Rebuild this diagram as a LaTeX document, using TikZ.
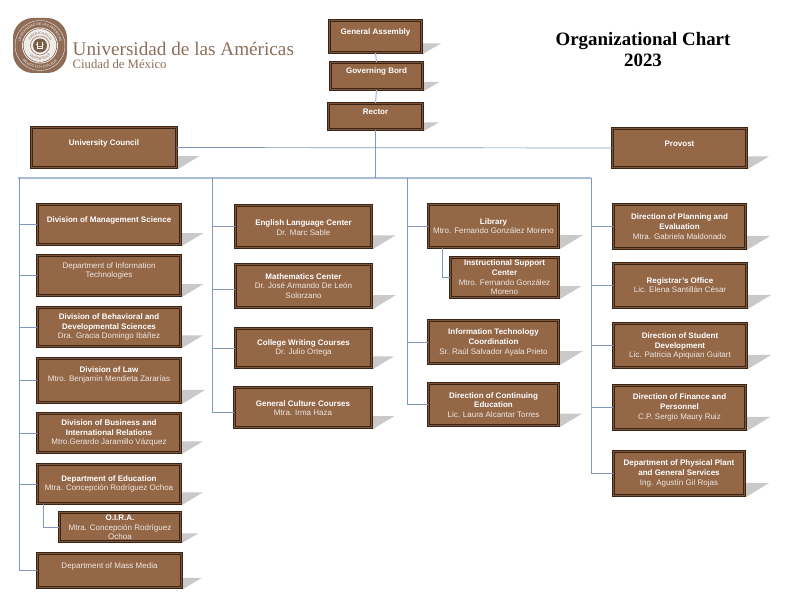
\documentclass[tikz,border=0pt]{standalone}
\usepackage{fontspec}
\setmainfont{Liberation Sans}
\newfontfamily\serifhead{Liberation Serif}
\usepackage{tikz}
\usetikzlibrary{decorations.text}

\definecolor{unitfill}{HTML}{946747}
\definecolor{unitgap}{HTML}{7D5539}
\definecolor{unitline}{HTML}{3A2416}
\definecolor{unitshade}{HTML}{C9C9C9}
\definecolor{linkblue}{HTML}{7E98BF}
\definecolor{buspale}{HTML}{A9BBD6}
\definecolor{seal}{HTML}{8F6C55}
\definecolor{sealtext}{HTML}{8D6E5A}

\tikzset{
unit/.style={draw=unitline,line width=0.8pt,double=unitgap,double distance=1.2pt,fill=unitfill,inner sep=0pt},
unittext/.style={align=center,inner sep=0pt,text=white,font=\fontsize{8}{9.7}\selectfont},
link/.style={draw=linkblue,line width=0.7pt},
bus/.style={draw=buspale,line width=1.1pt}
}
\newcommand{\hd}[1]{\textbf{#1}}
\newcommand{\nm}[1]{\textcolor{white!85!unitfill}{#1}}

\begin{document}
\begin{tikzpicture}[x=1pt,y=-1pt]
\useasboundingbox (0,0) rectangle (792,612);

% seal
\begin{scope}[shift={(40,45.5)},x=1pt,y=1pt]
\fill[seal,rounded corners=20pt] (-27,-27.5) rectangle (27,27.5);
\draw[white,line width=0.3pt] (0,0) circle (25);
\fill[white!88!seal] (0,0) circle (18);
\draw[seal,line width=0.6pt] (0,0) circle (16.8);
\draw[seal,line width=0.5pt] (0,0) circle (9.5);
\fill[seal!85!black] (0,0) circle (7);
\draw[white,line width=0.5pt] (-4,1.5) arc[start angle=200,end angle=340,radius=4.2];
\draw[white,line width=0.4pt] (-2.5,3) -- (-2.5,-2.5) -- (2.5,-2.5) -- (2.5,3);
\path[decorate,decoration={text along path,text color=white,text align=center,
  text={|\fontsize{3.4}{4}\selectfont|UNIVERSIDAD DE LAS AMERICAS}}] (175:20) arc[start angle=175,end angle=5,radius=20];
\path[decorate,decoration={text along path,text color=white,text align=center,
  text={|\fontsize{3.4}{4}\selectfont|MEXICO CITY COLLEGE}}] (205:23) arc[start angle=205,end angle=335,radius=23];
\path[decorate,decoration={text along path,text color=seal,text align=center,
  text={|\fontsize{3.6}{5}\selectfont|AMERICARUM}}] (165:11) arc[start angle=165,end angle=15,radius=11];
\path[decorate,decoration={text along path,text color=seal,text align=center,
  text={|\fontsize{3.6}{5}\selectfont|UNIVERSITAS}}] (200:14.5) arc[start angle=200,end angle=340,radius=14.5];
\end{scope}

\node[anchor=base west,inner sep=0pt,text=sealtext,font=\serifhead\fontsize{19.2}{21}\selectfont] (udla) at (72.5,55.5) {Universidad de las Américas};
\node[anchor=base west,inner sep=0pt,text=sealtext,font=\serifhead\fontsize{12.7}{14}\selectfont] (cdmx) at (72.5,69) {Ciudad de México};
\node[align=center,inner sep=0pt,font=\serifhead\bfseries\fontsize{18.9}{21}\selectfont] (title) at (643,49.5) {Organizational Chart\\2023};

% boxes: name / left / top / right / bottom / text centre / text
\foreach \n/\xa/\ya/\xb/\yb/\ty/\txt in {
assembly/328/19/423/54/32.5/{\hd{General Assembly}},
board/329/61/424/91/71.5/{\hd{Governing Bord}},
rector/327/102/424/131/111.5/{\hd{Rector}},
council/30/126/178/169/143.5/{\hd{University Council}},
provost/611/127/748/169/143.5/{\hd{Provost}},
mgmt/36/203/182/246/220/{\hd{Division of Management Science}},
infotech/36/254/182/297/271/{\nm{Department of Information}\\\nm{Technologies}},
behav/36/306/182/348/327/{\hd{Division of Behavioral and}\\\hd{Developmental Sciences}\\\nm{Dra. Gracia Domingo Ibáñez}},
law/36/357/182/404/375/{\hd{Division of Law}\\\nm{Mtro. Benjamín Mendieta Zararías}},
business/36/412/182/454/433/{\hd{Division of Business and}\\\hd{International Relations}\\\nm{Mtro.Gerardo Jaramillo Vázquez}},
education/36/463/182/505/484/{\hd{Department of Education}\\\nm{Mtra. Concepción Rodríguez Ochoa}},
oira/58/511/182/543/527.5/{\hd{O.I.R.A.}\\\nm{Mtra. Concepción Rodríguez}\\\nm{Ochoa}},
media/36/552/183/589/566/{\nm{Department of Mass Media}},
english/234/204/373/249/227.5/{\hd{English Language Center}\\\nm{Dr. Marc Sable}},
maths/234/263/373/309/286/{\hd{Mathematics Center}\\\nm{Dr. José Armando De León}\\\nm{Solorzano}},
writing/234/327/373/369/348/{\hd{College Writing Courses}\\\nm{Dr. Julio Ortega}},
culture/233/386/373/429/408/{\hd{General Culture Courses}\\\nm{Mtra. Irma Haza}},
library/427/203/560/249/226/{\hd{Library}\\\nm{Mtro. Fernando González Moreno}},
support/449/256/560/299/277.5/{\hd{Instructional Support}\\\hd{Center}\\\nm{Mtro. Fernando González}\\\nm{Moreno}},
itc/427/319/560/365/342.5/{\hd{Information Technology}\\\hd{Coordination}\\\nm{Sr. Raúl Salvador Ayala Prieto}},
continuing/427/382/560/427/405/{\hd{Direction of Continuing}\\\hd{Education}\\\nm{Lic. Laura Alcantar Torres}},
planning/612/203/747/250/226.5/{\hd{Direction of Planning and}\\\hd{Evaluation}\\\nm{Mtra. Gabriela Maldonado}},
registrar/612/262/748/309/285/{\hd{Registrar's Office}\\\nm{Lic. Elena Santillán César}},
student/612/322/748/369/346/{\hd{Direction of Student}\\\hd{Development}\\\nm{Lic. Patricia Apiquian Guitart}},
finance/612/384/747/431/407.5/{\hd{Direction of Finance and}\\\hd{Personnel}\\\nm{C.P. Sergio Maury Ruiz}},
plant/612/450/746/497/473.5/{\hd{Department of Physical Plant}\\\hd{and General Services}\\\nm{Ing. Agustín Gil Rojas}}}
{\fill[unitshade] (\xb,\yb) -- (\xb,{\yb-0.3*(\yb-\ya)}) -- ({\xb+0.45*(\yb-\ya)+2},{\yb-0.3*(\yb-\ya)}) -- cycle;
\node[unit,minimum width={(\xb-\xa-2.8)*1pt},minimum height={(\yb-\ya-2.8)*1pt}] (\n) at ({(\xa+\xb)/2},{(\ya+\yb)/2}) {};
\node[unittext] (\n text) at ({(\xa+\xb)/2},\ty) {\txt};}

% bus and trunks
\coordinate (busl) at (18,178);
\coordinate (trunk1) at (19.5,178);
\coordinate (trunk2) at (212.5,178);
\coordinate (trunk3) at (407,178);
\coordinate (trunk4) at (591,178);
\draw[bus] (busl) -- (trunk4);
\draw[bus] (assembly.south) -- (board.north);
\draw[bus] (board.south) -- (rector.north);
\draw[link] (rector.south) -- (rector.south |- busl);
\draw[link] (council.east) -- (provost.west);
\foreach \n in {mgmt,infotech,behav,law,business,education,media} \draw[link] (trunk1) |- (\n.west);
\foreach \n in {english,writing} \draw[link] (trunk2) |- (\n.west);
\draw[link] (trunk2) |- ([yshift=-3pt]maths.west);
\draw[link] (trunk2) |- ([yshift=-4.5pt]culture.west);
\foreach \n in {library,itc,continuing} \draw[link] (trunk3) |- (\n.west);
\foreach \n in {planning,registrar,student,finance,plant} \draw[link] (trunk4) |- (\n.west);
\draw[link] ([xshift=14pt]library.south west) |- (support.west);
\draw[link] ([xshift=6pt]education.south west) |- (oira.west);

\end{tikzpicture}
\end{document}
